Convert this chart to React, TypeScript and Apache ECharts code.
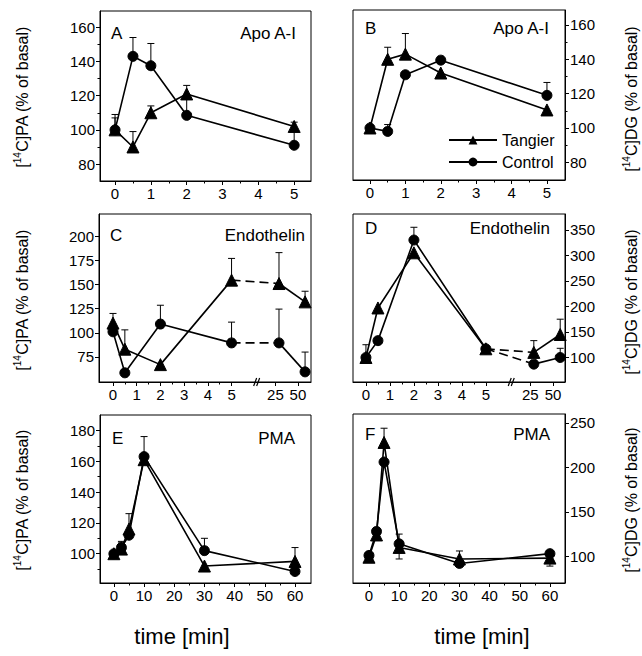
import React, { useEffect, useRef } from "react";
import * as echarts from "echarts";

const FONT = "'Liberation Sans', Arial, Helvetica, sans-serif";

// ---------- data ----------
const timesA = [0, 0.5, 1, 2, 5];
const tangierA = [100, 90, 110, 121, 102];
const tangierErrA = [107, 99, 114, 126, 104.5];
const controlA = [100, 143, 137.5, 108.5, 91];
const controlErrA = [109, 154, 150.5, 119, 99];

const timesB = [0, 0.5, 1, 2, 5];
const tangierB = [100, 140, 143, 132, 110.5];
const tangierErrB = [null, 147, 155, null, null];
const controlB = [100, 98, 131, 139.5, 119];
const controlErrB = [null, 102, null, null, 126.5];

// broken time axis (0..5 linear, then 25 and 50)
const timesCD = [0, 0.5, 2, 5, 25, 50];
const positionsCD = [0, 0.5, 2, 5, 7.0, 8.1];
const tickLabelsCD = ["0", "1", "2", "3", "4", "5", "25", "50"];
const tickPositionsCD = [0, 1, 2, 3, 4, 5, 6.85, 7.8];

const tangierC = [110, 83, 67, 154.5, 151, 132];
const tangierErrC = [120, 103, null, 177, 183, 143];
const controlC = [101, 58.5, 109, 89.5, 89.5, 59.5];
const controlErrC = [null, null, 128.5, 111, 124.5, 80];

const tangierD = [100, 197, 305, 117, 110, 145];
const tangierErrD = [125, null, null, null, 133, 175];
const controlD = [100, 133, 330, 117, 87, 100];
const controlErrD = [null, null, 355, null, null, 118];

const timesEF = [0, 2.5, 5, 10, 30, 60];
const tangierE = [100, 103, 116, 161, 92, 95];
const tangierErrE = [null, 107, 126, null, null, 104];
const controlE = [100, 104, 112, 163, 102, 88.5];
const controlErrE = [null, 108, null, 176, 110, null];

const tangierF = [99, 124, 228, 110, 97, 98];
const tangierErrF = [null, null, 244, 97, 106, 89];
const controlF = [101, 128, 206, 114, 92, 103];
const controlErrF = [null, null, null, 125, null, null];

const xTicksAB = [0, 1, 2, 3, 4, 5];
const xMinorAB = [0.5, 1.5, 2.5, 3.5, 4.5];
const xMinorCD = [0.5, 1.5, 2.5, 3.5, 4.5];
const xTicksEF = [0, 10, 20, 30, 40, 50, 60];
const xMinorEF = [5, 15, 25, 35, 45, 55];
const yTicksAB = [80, 100, 120, 140, 160];
const yMinorAB = [90, 110, 130, 150];
const yTicksC = [75, 100, 125, 150, 175, 200];
const yTicksD = [100, 150, 200, 250, 300, 350];
const yTicksE = [100, 120, 140, 160, 180];
const yMinorE = [90, 110, 130, 150, 170];
const yTicksF = [100, 150, 200, 250];

type Panel = {
  letter: string;
  title: string;
  x: number[];
  tangier: number[];
  tangierErr: (number | null)[];
  control: number[];
  controlErr: (number | null)[];
  xTicks: number[];
  xLabels?: string[];
  xMinor: number[];
  yTicks: number[];
  yMinor: number[];
  broken: boolean;
  grid: { left: number; top: number; width: number; height: number };
  xRange: [number, number];
  yRange: [number, number];
  yPos: "left" | "right";
  letterPos: [number, number];
  titlePos: [number, number];
};

const panels: Panel[] = [
  {
    letter: "A", title: "Apo A-I", x: timesA,
    tangier: tangierA, tangierErr: tangierErrA, control: controlA, controlErr: controlErrA,
    xTicks: xTicksAB, xMinor: xMinorAB, yTicks: yTicksAB, yMinor: yMinorAB, broken: false,
    grid: { left: 100, top: 11, width: 211, height: 170 },
    xRange: [-0.42, 5.47], yRange: [70.1, 169.5], yPos: "left",
    letterPos: [111, 25], titlePos: [296, 25],
  },
  {
    letter: "B", title: "Apo A-I", x: timesB,
    tangier: tangierB, tangierErr: tangierErrB, control: controlB, controlErr: controlErrB,
    xTicks: xTicksAB, xMinor: xMinorAB, yTicks: yTicksAB, yMinor: yMinorAB, broken: false,
    grid: { left: 353, top: 10, width: 212, height: 170 },
    xRange: [-0.48, 5.51], yRange: [69.7, 168.7], yPos: "right",
    letterPos: [365, 20], titlePos: [549, 20],
  },
  {
    letter: "C", title: "Endothelin", x: positionsCD,
    tangier: tangierC, tangierErr: tangierErrC, control: controlC, controlErr: controlErrC,
    xTicks: tickPositionsCD, xLabels: tickLabelsCD, xMinor: xMinorCD, yTicks: yTicksC, yMinor: [], broken: true,
    grid: { left: 99, top: 214, width: 212, height: 168 },
    xRange: [-0.59, 8.35], yRange: [49, 223], yPos: "left",
    letterPos: [110, 227], titlePos: [305, 227],
  },
  {
    letter: "D", title: "Endothelin", x: positionsCD,
    tangier: tangierD, tangierErr: tangierErrD, control: controlD, controlErr: controlErrD,
    xTicks: tickPositionsCD, xLabels: tickLabelsCD, xMinor: xMinorCD, yTicks: yTicksD, yMinor: [], broken: true,
    grid: { left: 353, top: 214, width: 212, height: 168 },
    xRange: [-0.54, 8.3], yRange: [52, 381], yPos: "right",
    letterPos: [365, 220], titlePos: [550, 220],
  },
  {
    letter: "E", title: "PMA", x: timesEF,
    tangier: tangierE, tangierErr: tangierErrE, control: controlE, controlErr: controlErrE,
    xTicks: xTicksEF, xMinor: xMinorEF, yTicks: yTicksE, yMinor: yMinorE, broken: false,
    grid: { left: 100, top: 415, width: 211, height: 168 },
    xRange: [-4.6, 65.3], yRange: [81, 190], yPos: "left",
    letterPos: [112, 430], titlePos: [295, 430],
  },
  {
    letter: "F", title: "PMA", x: timesEF,
    tangier: tangierF, tangierErr: tangierErrF, control: controlF, controlErr: controlErrF,
    xTicks: xTicksEF, xMinor: xMinorEF, yTicks: yTicksF, yMinor: [], broken: false,
    grid: { left: 353, top: 414, width: 212, height: 169 },
    xRange: [-5.3, 65], yRange: [70, 260], yPos: "right",
    letterPos: [365, 426], titlePos: [550, 426],
  },
];

const BLACK = "#000";

function errorBarSeries(xi: number, yi: number, xs: number[], ys: number[], errs: (number | null)[]) {
  const data: number[][] = [];
  errs.forEach((e, k) => {
    if (e !== null && e !== undefined) data.push([xs[k], ys[k], e]);
  });
  return {
    type: "custom",
    xAxisIndex: xi,
    yAxisIndex: yi,
    silent: true,
    z: 2,
    data,
    renderItem: (_p: any, api: any) => {
      const p0 = api.coord([api.value(0), api.value(1)]);
      const p1 = api.coord([api.value(0), api.value(2)]);
      return {
        type: "group",
        children: [
          { type: "line", shape: { x1: p0[0], y1: p0[1], x2: p1[0], y2: p1[1] }, style: { stroke: BLACK, lineWidth: 1 } },
          { type: "line", shape: { x1: p1[0] - 3.5, y1: p1[1], x2: p1[0] + 3.5, y2: p1[1] }, style: { stroke: BLACK, lineWidth: 1 } },
        ],
      };
    },
  };
}

function lineSeries(name: string | undefined, xi: number, yi: number, pts: number[][], symbol: string, dashed = false) {
  return {
    type: "line",
    name,
    xAxisIndex: xi,
    yAxisIndex: yi,
    data: pts,
    z: 3,
    symbol: dashed ? "none" : symbol,
    symbolSize: symbol === "triangle" ? 12 : 10,
    showSymbol: !dashed,
    itemStyle: { color: BLACK, borderColor: BLACK },
    lineStyle: { color: BLACK, width: 1.6, type: dashed ? [9, 5] : "solid" },
    silent: true,
  };
}

function buildOption() {
  const grids: any[] = [];
  const xAxes: any[] = [];
  const yAxes: any[] = [];
  const series: any[] = [];
  const graphics: any[] = [];

  panels.forEach((p, i) => {
    grids.push({ ...p.grid, show: true, borderColor: BLACK, borderWidth: 1, containLabel: false });
    const xi = 2 * i;
    const yi = 2 * i;
    const labelFmt = (v: number) => {
      if (p.xLabels) {
        const k = p.xTicks.findIndex((t) => Math.abs(t - v) < 1e-6);
        return k >= 0 ? p.xLabels[k] : "";
      }
      return String(v);
    };
    xAxes.push({
      type: "value", gridIndex: i, min: p.xRange[0], max: p.xRange[1], position: "bottom",
      axisLine: { show: true, onZero: false, lineStyle: { color: BLACK, width: 1 } },
      axisTick: { show: true, inside: false, length: 4, customValues: p.xTicks, lineStyle: { color: BLACK } },
      axisLabel: { show: true, customValues: p.xTicks, formatter: labelFmt, color: BLACK, fontSize: 15, fontFamily: FONT, margin: 5 },
      splitLine: { show: false },
    });
    xAxes.push({
      type: "value", gridIndex: i, min: p.xRange[0], max: p.xRange[1], position: "bottom",
      axisLine: { show: false, onZero: false },
      axisTick: { show: p.xMinor.length > 0, inside: false, length: 2.5, customValues: p.xMinor, lineStyle: { color: BLACK } },
      axisLabel: { show: false },
      splitLine: { show: false },
    });
    yAxes.push({
      type: "value", gridIndex: i, min: p.yRange[0], max: p.yRange[1], position: p.yPos,
      axisLine: { show: true, onZero: false, lineStyle: { color: BLACK, width: 1 } },
      axisTick: { show: true, inside: false, length: 4, customValues: p.yTicks, lineStyle: { color: BLACK } },
      axisLabel: { show: true, customValues: p.yTicks, color: BLACK, fontSize: 15, fontFamily: FONT, margin: 5 },
      splitLine: { show: false },
    });
    yAxes.push({
      type: "value", gridIndex: i, min: p.yRange[0], max: p.yRange[1], position: p.yPos,
      axisLine: { show: false, onZero: false },
      axisTick: { show: p.yMinor.length > 0, inside: false, length: 2.5, customValues: p.yMinor, lineStyle: { color: BLACK } },
      axisLabel: { show: false },
      splitLine: { show: false },
    });

    series.push(errorBarSeries(xi, yi, p.x, p.tangier, p.tangierErr));
    series.push(errorBarSeries(xi, yi, p.x, p.control, p.controlErr));

    const tPts = p.x.map((x, k) => [x, p.tangier[k]]);
    const cPts = p.x.map((x, k) => [x, p.control[k]]);
    if (!p.broken) {
      series.push(lineSeries("Tangier", xi, yi, tPts, "triangle"));
      series.push(lineSeries("Control", xi, yi, cPts, "circle"));
    } else {
      const brk = 3;
      series.push(lineSeries("Tangier", xi, yi, tPts.slice(0, brk + 1), "triangle"));
      series.push(lineSeries(undefined, xi, yi, tPts.slice(brk, brk + 2), "triangle", true));
      series.push(lineSeries("Tangier", xi, yi, tPts.slice(brk + 1), "triangle"));
      series.push(lineSeries("Control", xi, yi, cPts.slice(0, brk + 1), "circle"));
      series.push(lineSeries(undefined, xi, yi, cPts.slice(brk, brk + 2), "circle", true));
      series.push(lineSeries("Control", xi, yi, cPts.slice(brk + 1), "circle"));
      series.push({
        type: "custom", xAxisIndex: xi, yAxisIndex: yi, silent: true, z: 5,
        data: [[6.1, p.yRange[0]]],
        renderItem: (_pp: any, api: any) => {
          const c = api.coord([api.value(0), api.value(1)]);
          return {
            type: "group",
            children: [
              { type: "line", shape: { x1: c[0] - 4, y1: c[1] + 4, x2: c[0] - 1, y2: c[1] - 4 }, style: { stroke: BLACK, lineWidth: 1.2 } },
              { type: "line", shape: { x1: c[0] - 1, y1: c[1] + 4, x2: c[0] + 2, y2: c[1] - 4 }, style: { stroke: BLACK, lineWidth: 1.2 } },
            ],
          };
        },
      });
    }

    graphics.push({
      type: "text", x: p.letterPos[0], y: p.letterPos[1],
      style: { text: p.letter, fill: BLACK, font: `17px ${FONT}`, textAlign: "left", textVerticalAlign: "top" },
    });
    graphics.push({
      type: "text", x: p.titlePos[0], y: p.titlePos[1],
      style: { text: p.title, fill: BLACK, font: `17px ${FONT}`, textAlign: "right", textVerticalAlign: "top" },
    });
  });

  const axisTitle = (x: number, y: number, label: string) => ({
    type: "text",
    x, y,
    rotation: Math.PI / 2,
    style: {
      text: `{n|[}{s|14}{n|C]${label} (% of basal)}`,
      textAlign: "center",
      textVerticalAlign: "middle",
      fill: BLACK,
      rich: {
        n: { fontSize: 16, fontFamily: FONT, color: BLACK, lineHeight: 18, verticalAlign: "bottom" },
        s: { fontSize: 10, fontFamily: FONT, color: BLACK, lineHeight: 18, verticalAlign: "top", padding: [0, 0, 6, 0] },
      },
    },
  });

  graphics.push(axisTitle(21, 97, "PA"));
  graphics.push(axisTitle(21, 300, "PA"));
  graphics.push(axisTitle(21, 500, "PA"));
  graphics.push(axisTitle(630, 99, "DG"));
  graphics.push(axisTitle(630, 302, "DG"));
  graphics.push(axisTitle(630, 500, "DG"));

  graphics.push({
    type: "text", x: 182, y: 636,
    style: { text: "time [min]", fill: BLACK, font: `22px ${FONT}`, textAlign: "center", textVerticalAlign: "middle" },
  });
  graphics.push({
    type: "text", x: 482, y: 636,
    style: { text: "time [min]", fill: BLACK, font: `22px ${FONT}`, textAlign: "center", textVerticalAlign: "middle" },
  });

  return {
    animation: false,
    backgroundColor: "#fff",
    grid: grids,
    xAxis: xAxes,
    yAxis: yAxes,
    series,
    legend: {
      show: true,
      data: ["Tangier", "Control"],
      left: 443,
      top: 127,
      orient: "vertical",
      itemWidth: 48,
      itemHeight: 11,
      itemGap: 6,
      selectedMode: false,
      textStyle: { fontSize: 16, fontFamily: FONT, color: BLACK },
    },
    graphic: graphics,
  };
}

export default function App() {
  const ref = useRef<HTMLDivElement>(null);
  useEffect(() => {
    if (!ref.current) return;
    const chart = echarts.init(ref.current, undefined, { renderer: "svg" });
    chart.setOption(buildOption() as any);
    return () => chart.dispose();
  }, []);
  return (
    <div
      ref={ref}
      style={{ position: "fixed", left: 0, top: 0, width: 642, height: 656, background: "#fff" }}
    />
  );
}
